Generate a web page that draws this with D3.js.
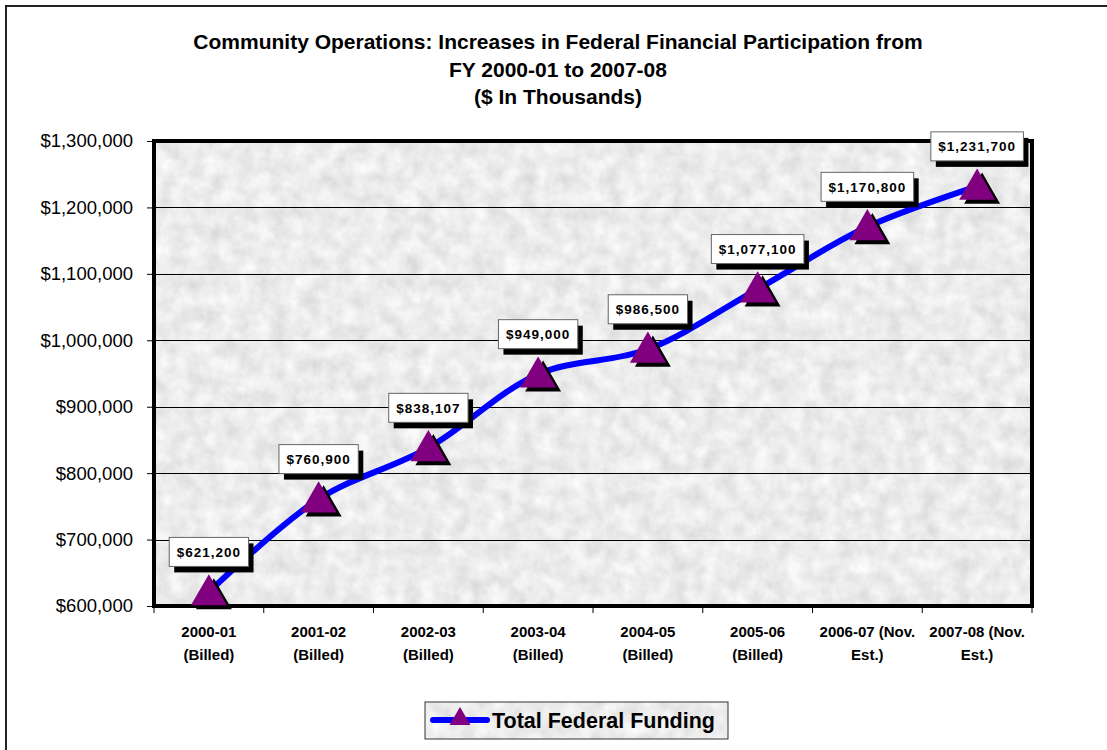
<!DOCTYPE html>
<html>
<head>
<meta charset="utf-8">
<script src="https://cdn.jsdelivr.net/npm/d3@7"></script>
<style>
  body { margin: 0; background: #fff; }
  text { font-family: "Liberation Sans", Arial, sans-serif; }
</style>
</head>
<body>
<div id="chart"></div>
<script>
// data
var years = ["2000-01 (Billed)", "2001-02 (Billed)", "2002-03 (Billed)", "2003-04 (Billed)",
             "2004-05 (Billed)", "2005-06 (Billed)", "2006-07 (Nov. Est.)", "2007-08 (Nov. Est.)"];
var yearLines = [["2000-01", "(Billed)"], ["2001-02", "(Billed)"], ["2002-03", "(Billed)"], ["2003-04", "(Billed)"],
                 ["2004-05", "(Billed)"], ["2005-06", "(Billed)"], ["2006-07 (Nov.", "Est.)"], ["2007-08 (Nov.", "Est.)"]];
var funding = [621200, 760900, 838107, 949000, 986500, 1077100, 1170800, 1231700];
var yTicks = [600000, 700000, 800000, 900000, 1000000, 1100000, 1200000, 1300000];
var titleLines = ["Community Operations: Increases in Federal Financial Participation from",
                  "FY 2000-01 to 2007-08",
                  "($ In Thousands)"];
var seriesName = "Total Federal Funding";

var W = 1107, H = 750;
var margin = {top: 141, right: 75, bottom: 144, left: 154};
var width = W - margin.left - margin.right,
    height = H - margin.top - margin.bottom;

var svg = d3.select("#chart").append("svg")
  .attr("width", W).attr("height", H);

// texture filter for plot area + legend
var defs = svg.append("defs");
var f = defs.append("filter").attr("id", "marble")
  .attr("x", 0).attr("y", 0).attr("width", 1).attr("height", 1);
f.append("feTurbulence").attr("type", "fractalNoise")
  .attr("baseFrequency", 0.06).attr("numOctaves", 5).attr("seed", 3);
f.append("feColorMatrix").attr("type", "matrix")
  .attr("values", "0.35 0 0 0 0.665  0.35 0 0 0 0.665  0.35 0 0 0 0.665  0 0 0 0 1");

// outer frame
svg.append("rect")
  .attr("x", 6).attr("y", 6).attr("width", W + 10).attr("height", H + 10)
  .attr("fill", "none").attr("stroke", "#222").attr("stroke-width", 2);

// title
svg.append("g").selectAll("text")
  .data(titleLines)
  .enter().append("text")
  .attr("x", 558)
  .attr("y", function(d, i) { return 49 + i * 27.5; })
  .attr("text-anchor", "middle")
  .style("font-size", "21px")
  .style("font-weight", "bold")
  .text(function(d) { return d; });

var g = svg.append("g")
  .attr("transform", "translate(" + margin.left + "," + margin.top + ")");

var x = d3.scaleBand().domain(years).range([0, width]);
var y = d3.scaleLinear().domain([600000, 1300000]).range([height, 0]);

// plot background
g.append("rect")
  .attr("width", width).attr("height", height)
  .attr("fill", "#ddd")
  .attr("filter", "url(#marble)");

// gridlines
g.append("g").selectAll("line")
  .data(yTicks.slice(1, -1))
  .enter().append("line")
  .attr("x1", 0).attr("x2", width)
  .attr("y1", function(d) { return Math.round(y(d)) + 0.5; })
  .attr("y2", function(d) { return Math.round(y(d)) + 0.5; })
  .attr("stroke", "#000").attr("stroke-width", 1);

// y axis
var yAxis = g.append("g")
  .call(d3.axisLeft(y).tickValues(yTicks).tickSize(7).tickPadding(14)
    .tickFormat(function(d) { return "$" + d3.format(",")(d); }));
yAxis.select(".domain").remove();
yAxis.selectAll("text").style("font-size", "18.5px").attr("fill", "#000")
  .style("font-family", "'Liberation Sans', Arial, sans-serif");
yAxis.selectAll("line").attr("stroke", "#000");

// x axis ticks at category boundaries
var bounds = years.map(function(d) { return x(d); }).concat([width]);
g.append("g").selectAll("line")
  .data(bounds)
  .enter().append("line")
  .attr("x1", function(d) { return d; }).attr("x2", function(d) { return d; })
  .attr("y1", height).attr("y2", height + 7)
  .attr("stroke", "#000");

var xl = g.append("g").selectAll("text")
  .data(yearLines)
  .enter().append("text")
  .attr("x", function(d, i) { return x(years[i]) + x.bandwidth() / 2; })
  .attr("y", height + 31)
  .attr("text-anchor", "middle")
  .style("font-size", "15px")
  .style("font-weight", "bold");
xl.selectAll("tspan")
  .data(function(d) { return d; })
  .enter().append("tspan")
  .attr("x", function() { return d3.select(this.parentNode).attr("x"); })
  .attr("dy", function(d, i) { return i ? 23 : 0; })
  .text(function(d) { return d; });

// plot border
g.append("rect")
  .attr("width", width).attr("height", height)
  .attr("fill", "none").attr("stroke", "#000").attr("stroke-width", 4);

// line
var cx = function(i) { return x(years[i]) + x.bandwidth() / 2; };
var line = d3.line()
  .x(function(d, i) { return cx(i); })
  .y(function(d) { return y(d); })
  .curve(d3.curveCatmullRom);

g.append("path")
  .datum(funding)
  .attr("d", line)
  .attr("fill", "none")
  .attr("stroke", "#0000ff")
  .attr("stroke-width", 6)
  .attr("stroke-linecap", "round");

// triangles
var tri = d3.symbol().type(d3.symbolTriangle).size(560);
var marks = g.append("g").selectAll("g")
  .data(funding)
  .enter().append("g")
  .attr("transform", function(d, i) { return "translate(" + cx(i) + "," + (y(d) + 3) + ")"; });
marks.append("path").attr("d", tri)
  .attr("transform", "translate(5,4)")
  .attr("fill", "#000");
marks.append("path").attr("d", tri)
  .attr("fill", "#800080");

// data labels
var labels = g.append("g").selectAll("g")
  .data(funding)
  .enter().append("g")
  .attr("transform", function(d, i) { return "translate(" + cx(i) + "," + (y(d) - 40) + ")"; });
labels.each(function(d) {
  var lg = d3.select(this);
  var shadow = lg.append("rect").attr("fill", "#000");
  var box = lg.append("rect").attr("fill", "#fff").attr("stroke", "#666").attr("stroke-width", 1);
  var t = lg.append("text")
    .attr("text-anchor", "middle")
    .attr("y", 5)
    .style("font-size", "13.5px")
    .style("font-weight", "bold")
    .style("letter-spacing", "1px")
    .text("$" + d3.format(",")(d));
  var bw = t.node().getComputedTextLength() + 15, bh = 29;
  box.attr("x", -bw / 2).attr("y", -bh / 2).attr("width", bw).attr("height", bh);
  shadow.attr("x", -bw / 2 + 5).attr("y", -bh / 2 + 6).attr("width", bw).attr("height", bh);
});

// legend
var lg = svg.append("g").attr("transform", "translate(425,702)");
lg.append("rect").attr("width", 303).attr("height", 37)
  .attr("fill", "#ddd").attr("filter", "url(#marble)");
lg.append("rect").attr("width", 303).attr("height", 37)
  .attr("fill", "none").attr("stroke", "#333").attr("stroke-width", 1);
lg.append("line").attr("x1", 8).attr("x2", 62).attr("y1", 18).attr("y2", 18)
  .attr("stroke", "#0000ff").attr("stroke-width", 6).attr("stroke-linecap", "round");
lg.append("path").attr("d", d3.symbol().type(d3.symbolTriangle).size(190))
  .attr("transform", "translate(35,17)")
  .attr("fill", "#800080");
lg.append("text").attr("x", 67).attr("y", 26)
  .style("font-size", "21.5px").style("font-weight", "bold")
  .text(seriesName);
</script>
</body>
</html>
